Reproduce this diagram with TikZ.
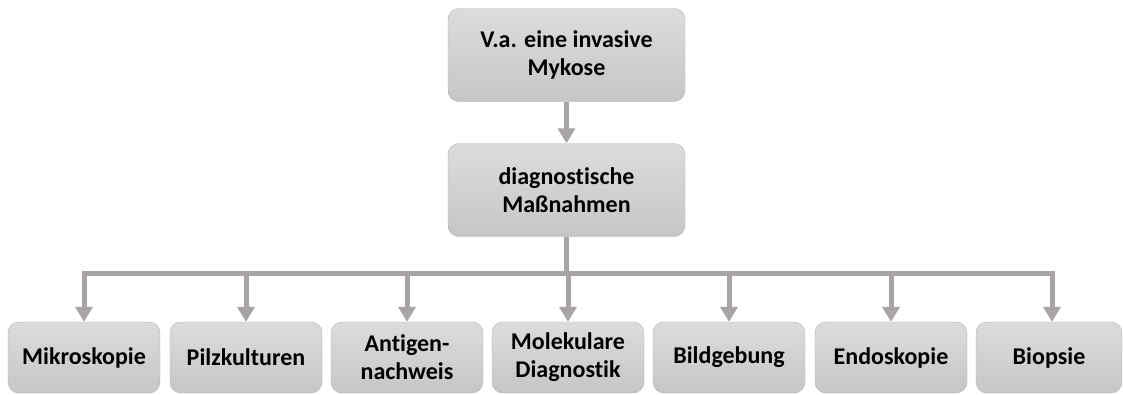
\documentclass[tikz,border=0pt]{standalone}
\usepackage{fontspec}
\setmainfont{Carlito}[Ligatures=NoCommon]
\usetikzlibrary{arrows.meta}
\definecolor{conn}{HTML}{A8A4A4}
\definecolor{boxtop}{HTML}{DCDCDC}
\definecolor{boxbot}{HTML}{C6C6C6}
\tikzset{
  box/.style={rounded corners=11pt, top color=boxtop, bottom color=boxbot, draw=boxbot!90!black, line width=0.4pt,
    align=center, inner sep=0pt, font=\fontsize{24}{28}\selectfont\bfseries, text=black},
  bigbox/.style={box, minimum width=237pt, minimum height=93pt},
  smallbox/.style={box, minimum width=152pt, minimum height=71pt},
  conline/.style={draw=conn, line width=5pt},
  conarrow/.style={conline, -{Triangle[width=17pt,length=15pt]}}
}
\begin{document}
\begin{tikzpicture}[x=1pt,y=-1pt]
\useasboundingbox (0,0) rectangle (1123,394);
\node[bigbox] (va) at (566.5,55) {V.a. eine invasive\\Mykose};
\node[bigbox] (dm) at (566.5,190) {diagnostische\\Maßnahmen};
\node[smallbox] (b1) at (84,357.5) {Mikroskopie};
\node[smallbox] (b2) at (246,357.5) {Pilzkulturen};
\node[smallbox] (b3) at (407,357.5) {Antigen-\\nachweis};
\node[smallbox] (b4) at (568,357.5) {Molekulare\\Diagnostik};
\node[smallbox] (b5) at (729,357.5) {Bildgebung};
\node[smallbox] (b6) at (891,357.5) {Endoskopie};
\node[smallbox, minimum width=146pt] (b7) at (1049,357.5) {Biopsie};
\coordinate (bar) at (566.5,273);
\coordinate (barL) at (b1.north |- bar);
\coordinate (barR) at (1052,273);
\draw[conarrow] (va.south) -- (dm.north);
\draw[conline] (dm.south) -- (bar);
\draw[conline, line cap=rect] (barL) -- (barR);
\foreach \b in {b1,b2,b3,b4,b5,b6}{
  \draw[conarrow] (\b.north |- bar) -- (\b.north);
}
\draw[conarrow] (barR) -- (barR |- b7.north);
\end{tikzpicture}
\end{document}
